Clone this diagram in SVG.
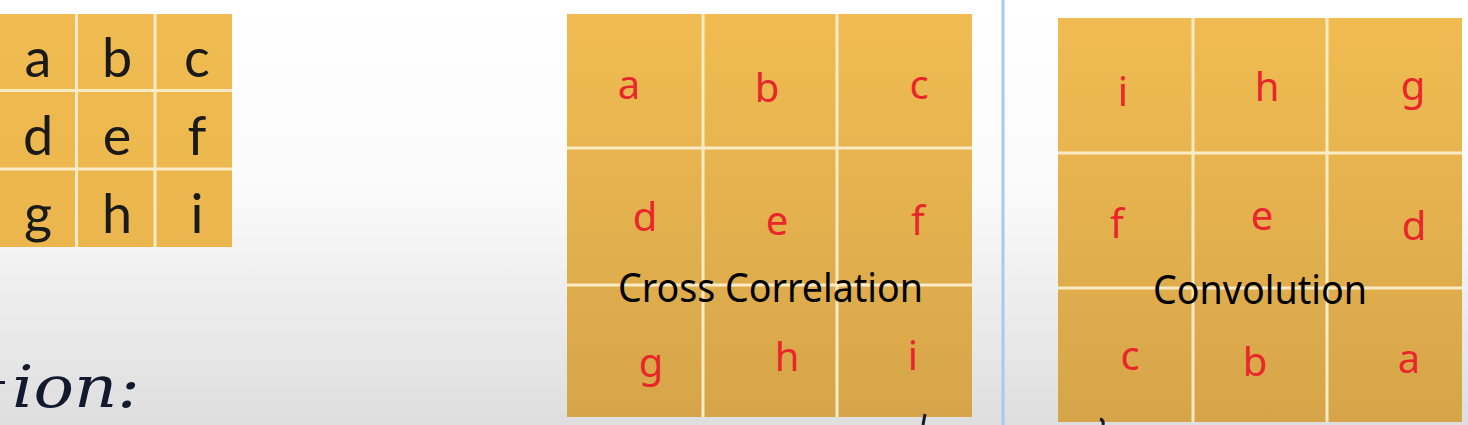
<svg xmlns="http://www.w3.org/2000/svg" width="1468" height="425" viewBox="0 0 1468 425">
<defs>
<linearGradient id="bg" x1="0" y1="0" x2="0" y2="1">
<stop offset="0" stop-color="#ffffff"/>
<stop offset="0.45" stop-color="#fafafa"/>
<stop offset="1" stop-color="#dedede"/>
</linearGradient>
<linearGradient id="tile" x1="0" y1="0" x2="0" y2="1">
<stop offset="0" stop-color="#F0BC52"/>
<stop offset="1" stop-color="#D6A549"/>
</linearGradient>
<linearGradient id="tileS" x1="0" y1="0" x2="0" y2="1">
<stop offset="0" stop-color="#F0BB50"/>
<stop offset="1" stop-color="#EBB64D"/>
</linearGradient>
<style>
.sep{stroke:#FBEBC6;stroke-width:3;fill:none}
.blk{font-family:Lato,"Liberation Sans",sans-serif;font-size:54px;fill:#1a1a1a;text-anchor:middle}
.red{font-family:"Noto Sans","Open Sans",sans-serif;font-size:40px;fill:#E8272B;text-anchor:middle}
.cap{font-family:"Noto Sans","Open Sans",sans-serif;font-size:40px;fill:#000}
.hand{font-family:"DejaVu Serif","Liberation Serif",serif;font-style:italic;font-size:58px;fill:#141a2e}
</style>
</defs>
<rect width="1468" height="425" fill="url(#bg)"/>
<line x1="1003" y1="0" x2="1003" y2="425" stroke="#A9C9F0" stroke-width="3"/>

<g id="small-grid">
<rect x="0" y="14" width="232" height="233" fill="url(#tileS)"/>
<path class="sep" d="M76.5 14V247M155 14V247M0 90.5H232M0 169H232"/>
<text class="blk" x="38" y="77">a</text>
<text class="blk" x="117" y="77">b</text>
<text class="blk" x="197" y="77">c</text>
<text class="blk" x="38" y="155">d</text>
<text class="blk" x="117" y="155">e</text>
<text class="blk" x="197" y="155">f</text>
<text class="blk" x="38" y="233">g</text>
<text class="blk" x="117" y="233">h</text>
<text class="blk" x="197" y="233">i</text>
</g>

<g id="cross-correlation">
<rect x="567" y="14" width="405" height="403" fill="url(#tile)"/>
<path class="sep" d="M703 14V417M837 14V417M567 148H972M567 285H972"/>
<text class="red" x="629" y="99">a</text>
<text class="red" x="767" y="102">b</text>
<text class="red" x="919" y="99">c</text>
<text class="red" x="645" y="231">d</text>
<text class="red" x="777" y="235">e</text>
<text class="red" x="918" y="235">f</text>
<text class="red" x="651" y="377">g</text>
<text class="red" x="787" y="371">h</text>
<text class="red" x="913" y="370">i</text>
<text class="cap" x="618" y="302" textLength="305" lengthAdjust="spacingAndGlyphs">Cross Correlation</text>
</g>

<g id="convolution">
<rect x="1058" y="18" width="404" height="404" fill="url(#tile)"/>
<path class="sep" d="M1193 18V422M1327 18V422M1058 153H1462M1058 288H1462"/>
<text class="red" x="1123" y="106">i</text>
<text class="red" x="1267" y="101">h</text>
<text class="red" x="1413" y="100">g</text>
<text class="red" x="1117" y="238">f</text>
<text class="red" x="1262" y="230">e</text>
<text class="red" x="1414" y="240">d</text>
<text class="red" x="1130" y="370">c</text>
<text class="red" x="1255" y="376">b</text>
<text class="red" x="1409" y="373">a</text>
<text class="cap" x="1153" y="304" textLength="214" lengthAdjust="spacingAndGlyphs">Convolution</text>
</g>

<g id="handwriting">
<path d="M0 382.5H5" stroke="#141a2e" stroke-width="3"/>
<text class="hand" x="12" y="407" textLength="128" lengthAdjust="spacingAndGlyphs">ion:</text>
<path d="M925 414L923 425" stroke="#141a2e" stroke-width="3" fill="none"/>
<path d="M1100 419Q1104 420 1103 425" stroke="#141a2e" stroke-width="3" fill="none"/>
</g>
</svg>
